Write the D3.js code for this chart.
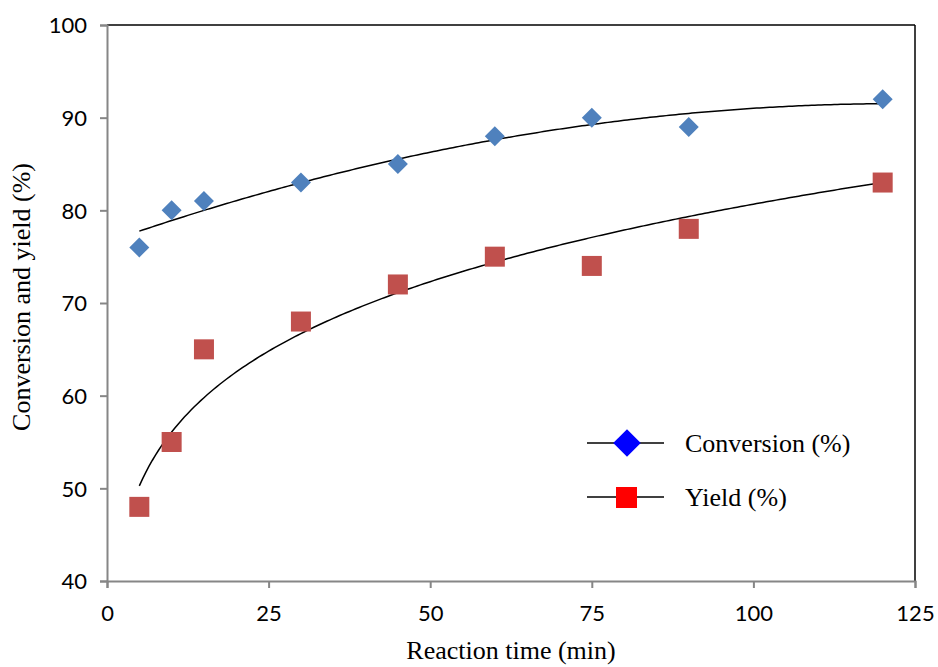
<!DOCTYPE html>
<meta charset="utf-8">
<html>
<head>
<style>
  body { margin: 0; background: #fff; }
  .tick text { font-family: Lato, "Open Sans", sans-serif; font-size: 22px; fill: #000; }
  .axis-title { font-family: "Liberation Serif", "Times New Roman", serif; font-size: 26px; fill: #000; }
  .legend text { font-family: "Liberation Serif", "Times New Roman", serif; font-size: 26px; fill: #000; }
</style>
</head>
<body>
<div id="chart"></div>
<script src="https://d3js.org/d3.v7.min.js"></script>
<script>
// data
var times = [5, 10, 15, 30, 45, 60, 75, 90, 120];
var conversion = [76, 80, 81, 83, 85, 88, 90, 89, 92];
var yieldPct = [48, 55, 65, 68, 72, 75, 74, 78, 83];
var xTicks = [0, 25, 50, 75, 100, 125];
var yTicks = [40, 50, 60, 70, 80, 90, 100];

var W = 938, H = 667;
var margin = {top: 25, right: 23, bottom: 86, left: 107};
var width = W - margin.left - margin.right,
    height = H - margin.top - margin.bottom;

var svg = d3.select("#chart").append("svg")
    .attr("width", W).attr("height", H);
var g = svg.append("g")
    .attr("transform", "translate(" + margin.left + "," + margin.top + ")");

var x = d3.scaleLinear().domain([0, 125]).range([0, width]);
var y = d3.scaleLinear().domain([40, 100]).range([height, 0]);

// top + right frame in black
g.append("line").attr("x1", 0).attr("x2", width).attr("y1", 0).attr("y2", 0)
  .attr("stroke", "#000").attr("stroke-width", 1.5);
g.append("line").attr("x1", width).attr("x2", width).attr("y1", 0).attr("y2", height)
  .attr("stroke", "#000").attr("stroke-width", 1.5);

var xAxis = g.append("g")
  .attr("transform", "translate(0," + height + ")")
  .call(d3.axisBottom(x).tickValues(xTicks).tickSize(7).tickPadding(17));
var yAxis = g.append("g")
  .call(d3.axisLeft(y).tickValues(yTicks).tickSize(7).tickPadding(13));
[xAxis, yAxis].forEach(function(a) {
  a.select(".domain").attr("stroke", "#868686").attr("stroke-width", 2);
  a.selectAll(".tick line").attr("stroke", "#868686").attr("stroke-width", 2);
});
yAxis.selectAll(".tick text").attr("dy", "0.35em");

// trend lines: power fit for yield, 2nd order polynomial for conversion
function powerFit(xs, ys) {
  var lx = xs.map(Math.log), ly = ys.map(Math.log);
  var mx = d3.mean(lx), my = d3.mean(ly);
  var sxy = d3.sum(lx, function(v, i) { return (v - mx) * (ly[i] - my); });
  var sxx = d3.sum(lx, function(v) { return (v - mx) * (v - mx); });
  var b = sxy / sxx, a = Math.exp(my - b * mx);
  return function(t) { return a * Math.pow(t, b); };
}
function polyFit2(xs, ys) {
  // normal equations, 3x3
  var s = [0, 0, 0, 0, 0], t = [0, 0, 0];
  xs.forEach(function(v, i) {
    for (var k = 0; k < 5; k++) s[k] += Math.pow(v, k);
    for (var k2 = 0; k2 < 3; k2++) t[k2] += ys[i] * Math.pow(v, k2);
  });
  var M = [[s[0], s[1], s[2], t[0]], [s[1], s[2], s[3], t[1]], [s[2], s[3], s[4], t[2]]];
  for (var c = 0; c < 3; c++) {
    for (var r = c + 1; r < 3; r++) {
      var f = M[r][c] / M[c][c];
      for (var k3 = c; k3 < 4; k3++) M[r][k3] -= f * M[c][k3];
    }
  }
  var coef = [0, 0, 0];
  for (var r2 = 2; r2 >= 0; r2--) {
    var v2 = M[r2][3];
    for (var k4 = r2 + 1; k4 < 3; k4++) v2 -= M[r2][k4] * coef[k4];
    coef[r2] = v2 / M[r2][r2];
  }
  return function(tt) { return coef[0] + coef[1] * tt + coef[2] * tt * tt; };
}

var convFit = polyFit2(times, conversion);
var yieldFit = powerFit(times, yieldPct);
var tGrid = d3.range(5, 120.01, 0.5);
var line = d3.line().x(function(d) { return x(d[0]); }).y(function(d) { return y(d[1]); });

g.append("path")
  .datum(tGrid.map(function(t) { return [t, convFit(t)]; }))
  .attr("d", line).attr("fill", "none").attr("stroke", "#000").attr("stroke-width", 1.5);
g.append("path")
  .datum(tGrid.map(function(t) { return [t, yieldFit(t)]; }))
  .attr("d", line).attr("fill", "none").attr("stroke", "#000").attr("stroke-width", 1.5);

var diamond = d3.symbol().type(d3.symbolSquare).size(200);

g.selectAll(".conv")
  .data(times)
  .enter().append("path")
  .attr("d", diamond)
  .attr("transform", function(d, i) {
    return "translate(" + x(d) + "," + y(conversion[i]) + ") rotate(45)";
  })
  .attr("fill", "#4F81BD");

g.selectAll(".yld")
  .data(times)
  .enter().append("rect")
  .attr("x", function(d) { return x(d) - 10; })
  .attr("y", function(d, i) { return y(yieldPct[i]) - 10; })
  .attr("width", 20).attr("height", 20)
  .attr("fill", "#C0504D");

// axis titles
svg.append("text").attr("class", "axis-title")
  .attr("x", 511).attr("y", 659)
  .attr("text-anchor", "middle").text("Reaction time (min)");
svg.append("text").attr("class", "axis-title")
  .attr("transform", "translate(30," + 297 + ") rotate(-90)")
  .attr("text-anchor", "middle").text("Conversion and yield (%)");

// legend
var legend = svg.append("g").attr("class", "legend");
var legendItems = [
  {label: "Conversion (%)", shape: "diamond", color: "#0000FF", y: 443},
  {label: "Yield (%)", shape: "square", color: "#FF0000", y: 497}
];
legendItems.forEach(function(it) {
  legend.append("line").attr("x1", 587).attr("x2", 664).attr("y1", it.y).attr("y2", it.y)
    .attr("stroke", "#000").attr("stroke-width", 1.5);
  if (it.shape === "diamond") {
    legend.append("path").attr("d", d3.symbol().type(d3.symbolSquare).size(380))
      .attr("transform", "translate(627," + it.y + ") rotate(45)")
      .attr("fill", it.color);
  } else {
    legend.append("rect").attr("x", 616).attr("y", it.y - 10).attr("width", 21).attr("height", 21)
      .attr("fill", it.color);
  }
  legend.append("text").attr("x", 685).attr("y", it.y).attr("dy", "0.33em").text(it.label);
});
</script>
</body>
</html>
